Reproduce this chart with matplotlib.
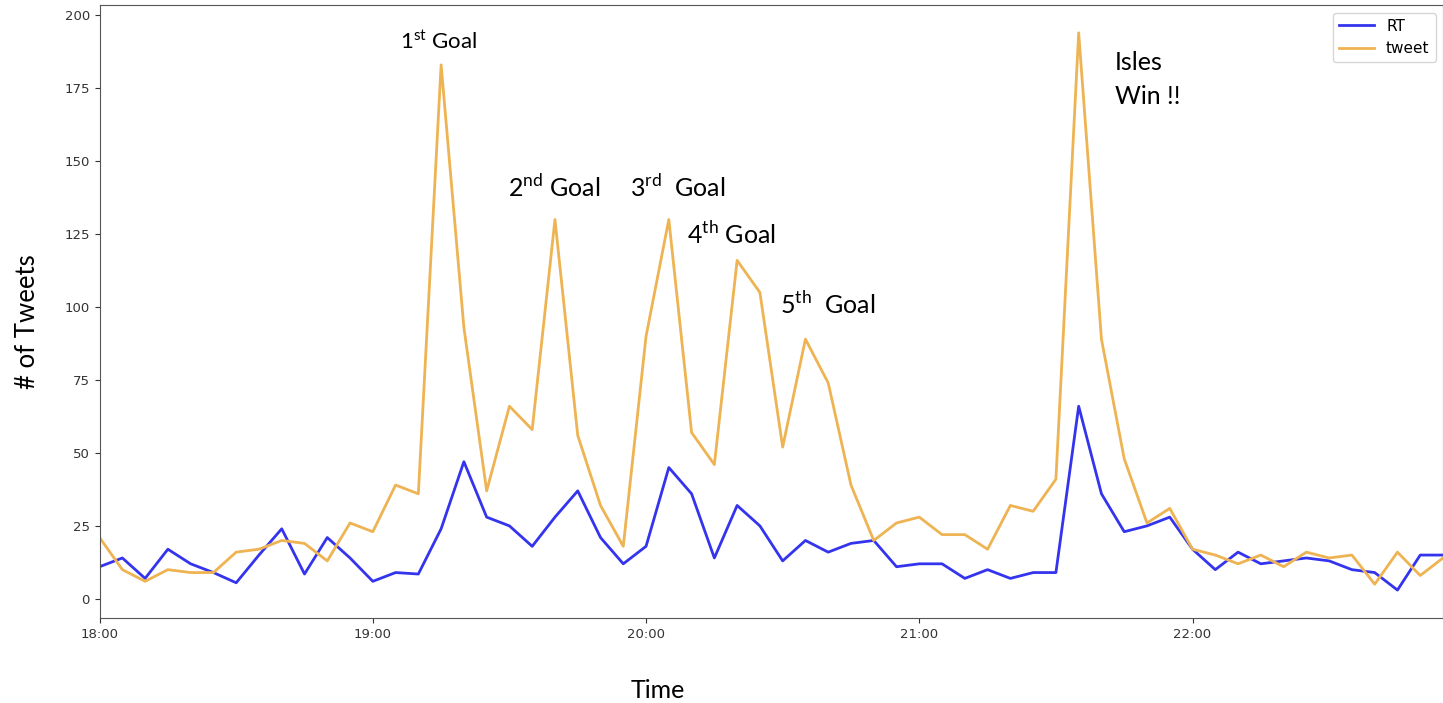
import numpy as np
import pandas as pd
import matplotlib
matplotlib.use("Agg")
import matplotlib.pyplot as plt
import matplotlib.dates as mdates

# 5-minute bins, 18:00 - 22:55
times = pd.date_range("2019-04-10 18:00", periods=60, freq="5min")

rt = [11, 14, 7, 17, 12, 9, 5.5, 15, 24, 8.5,
      21, 14, 6, 9, 8.5, 24, 47, 28, 25, 18,
      28, 37, 21, 12, 18, 45, 36, 14, 32, 25,
      13, 20, 16, 19, 20, 11, 12, 12, 7, 10,
      7, 9, 9, 66, 36, 23, 25, 28, 17, 10,
      16, 12, 13, 14, 13, 10, 9, 3, 15, 15]

tweet = [21, 10, 6, 10, 9, 9, 16, 17, 20, 19,
         13, 26, 23, 39, 36, 183, 93, 37, 66, 58,
         130, 56, 32, 18, 90, 130, 57, 46, 116, 105,
         52, 89, 74, 39, 20, 26, 28, 22, 22, 17,
         32, 30, 41, 194, 89, 48, 26, 31, 17, 15,
         12, 15, 11, 16, 14, 15, 5, 16, 8, 14]

# annotation text, time, y where the label sits, font size
notes = [
    ("1$^{\\mathrm{st}}$ Goal", "19:06", 191, 16),
    ("2$^{\\mathrm{nd}}$ Goal", "19:29.6", 141, 18),
    ("3$^{\\mathrm{rd}}$  Goal", "19:56.4", 141, 18),
    ("4$^{\\mathrm{th}}$ Goal", "20:09", 125, 18),
    ("5$^{\\mathrm{th}}$  Goal", "20:29.5", 101, 18),
    ("Isles\nWin !!", "21:43", 178, 18),
]

plt.rcParams['mathtext.fontset'] = 'custom'
plt.rcParams['mathtext.rm'] = 'Lato'

fig = plt.figure(figsize=(14.43, 7.03), dpi=100)
ax = fig.add_axes([0.069, 0.121, 0.931, 0.872])

ax.plot(times, rt, color='#3434ee', lw=2, label='RT')
ax.plot(times, tweet, color='#eeb352', lw=2, label='tweet')

ax.set_xlim(times[0], times[-1])
ax.set_yticks(np.arange(0, 201, 25))
ax.xaxis.set_major_locator(mdates.HourLocator())
ax.xaxis.set_major_formatter(mdates.DateFormatter('%H:%M'))
ax.tick_params(labelsize=9.5, colors='#333333')
for s in ax.spines.values():
    s.set_color('#555555')

fig.text(658 / 1443, 1 - 690 / 703, "Time", family='Lato', fontsize=18,
         ha='center', va='center')
fig.text(28 / 1443, 1 - 322 / 703, "# of Tweets", family='Lato', fontsize=18.5,
         ha='center', va='center', rotation=90)

for txt, t, y, fs in notes:
    ts = pd.Timestamp("2019-04-10 " + t.split(".")[0]) + pd.Timedelta(
        seconds=60 * float("0." + t.split(".")[1]) if "." in t else 0)
    ax.text(ts, y, txt, family='Lato', fontsize=fs, ha='left', va='center',
            linespacing=1.55)

ax.legend(loc='upper right', fontsize=11, handlelength=2.3,
          borderaxespad=0.3, bbox_to_anchor=(0.998, 0.995))

fig.savefig("out.png", dpi=100)
